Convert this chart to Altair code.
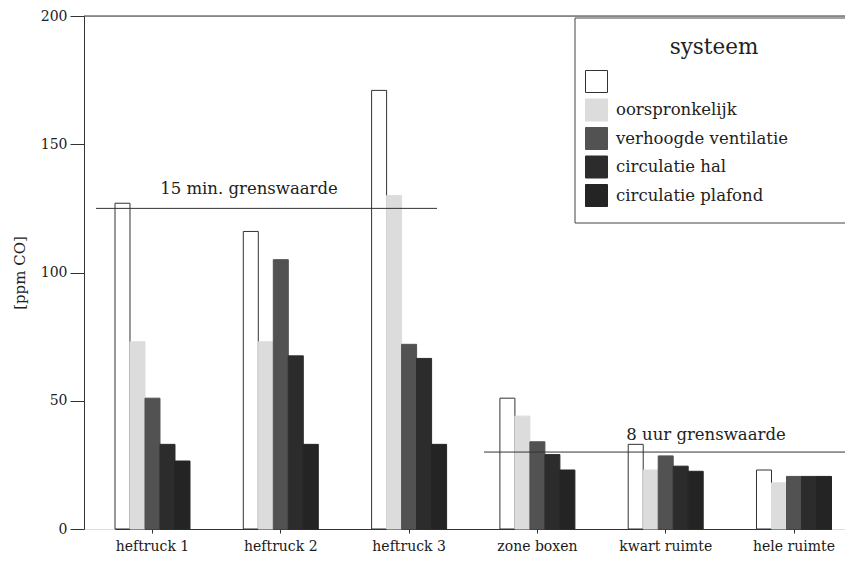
import altair as alt
import pandas as pd

categories = ["heftruck 1", "heftruck 2", "heftruck 3", "zone boxen", "kwart ruimte", "hele ruimte"]
series = ["referentie", "oorspronkelijk", "verhoogde ventilatie", "circulatie hal", "circulatie plafond"]
fills = ["#ffffff", "#dcdcdc", "#525252", "#2c2c2c", "#242424"]
strokes = ["#333333", "#dcdcdc", "#525252", "#2c2c2c", "#242424"]

referentie = [127, 116, 171, 51, 33, 23]
oorspronkelijk = [73, 73, 130, 44, 23, 18]
verhoogde_ventilatie = [51, 105, 72, 34, 28.5, 20.5]
circulatie_hal = [33, 67.5, 66.5, 29, 24.5, 20.5]
circulatie_plafond = [26.5, 33, 33, 23, 22.5, 20.5]

grens_15min = 125
grens_8uur = 30

FONT = "DejaVu Serif"
W, H = 761, 513

rows = []
for s, vals in zip(series, [referentie, oorspronkelijk, verhoogde_ventilatie, circulatie_hal, circulatie_plafond]):
    for c, v in zip(categories, vals):
        rows.append({"categorie": c, "systeem": s, "ppm": v})
df = pd.DataFrame(rows)

legend = alt.Legend(
    title=None, orient="none", legendX=501, legendY=54, padding=0,
    symbolType="square", symbolSize=484, symbolStrokeWidth=1,
    rowPadding=1.5, labelOffset=8, labelFont=FONT, labelFontSize=16.5,
    labelColor="#222", labelLimit=300,
    labelExpr="datum.label == 'referentie' ? '' : datum.label",
)

yscale = alt.Scale(domain=[0, 200], nice=False)

bars = alt.Chart(df).mark_bar(strokeWidth=1).encode(
    x=alt.X("categorie:N", sort=categories, title=None,
            scale=alt.Scale(paddingInner=0.4155, paddingOuter=0, range=[31, 747.5]),
            axis=alt.Axis(labelAngle=0, labelFont=FONT, labelFontSize=14, labelColor="#1a1a1a",
                          tickSize=4, labelPadding=6, domainColor="#333", tickColor="#333")),
    xOffset=alt.XOffset("systeem:N", sort=series, scale=alt.Scale(paddingInner=0, paddingOuter=0)),
    y=alt.Y("ppm:Q", scale=yscale, title="[ppm CO]",
            axis=alt.Axis(values=[0, 50, 100, 150, 200], grid=False, tickSize=14,
                          labelPadding=3, labelFont=FONT, labelFontSize=14, labelColor="#222",
                          titleFont=FONT, titleFontSize=15, titleFontWeight="normal",
                          titleColor="#222", titlePadding=13, domainColor="#333", tickColor="#333")),
    fill=alt.Fill("systeem:N", sort=series, scale=alt.Scale(domain=series, range=fills), legend=legend),
    stroke=alt.Stroke("systeem:N", sort=series, scale=alt.Scale(domain=series, range=strokes), legend=legend),
)

top_line = alt.Chart(pd.DataFrame({"a": [0]})).mark_rule(color="#333", strokeWidth=1).encode(
    x=alt.value(0), x2=alt.value(W), y=alt.value(0)
)

rule15 = alt.Chart(pd.DataFrame({"v": [grens_15min]})).mark_rule(color="#333", strokeWidth=1).encode(
    y=alt.Y("v:Q", scale=yscale), x=alt.value(12), x2=alt.value(353)
)
rule8 = alt.Chart(pd.DataFrame({"v": [grens_8uur]})).mark_rule(color="#333", strokeWidth=1).encode(
    y=alt.Y("v:Q", scale=yscale), x=alt.value(400), x2=alt.value(W)
)

txt15 = alt.Chart(pd.DataFrame({"t": ["15 min. grenswaarde"]})).mark_text(
    font=FONT, fontSize=16.5, color="#222", align="center", baseline="middle"
).encode(text="t:N", x=alt.value(165), y=alt.value(173))
txt8 = alt.Chart(pd.DataFrame({"t": ["8 uur grenswaarde"]})).mark_text(
    font=FONT, fontSize=16.5, color="#222", align="center", baseline="middle"
).encode(text="t:N", x=alt.value(622), y=alt.value(419))

legend_box = alt.Chart(pd.DataFrame({"a": [0]})).mark_rect(
    fill="white", stroke="#444", strokeWidth=1
).encode(x=alt.value(491), x2=alt.value(W + 20), y=alt.value(2), y2=alt.value(207))

legend_title = alt.Chart(pd.DataFrame({"t": ["systeem"]})).mark_text(
    font=FONT, fontSize=21.5, color="#222", align="center", baseline="middle"
).encode(text="t:N", x=alt.value(630), y=alt.value(32))

chart = alt.layer(
    bars, top_line, rule15, rule8, txt15, txt8, legend_box, legend_title
).properties(
    width=W, height=H,
    autosize=alt.AutoSizeParams(type="none"),
    padding={"left": 76, "top": 8, "right": 0, "bottom": 24},
).configure_view(strokeWidth=0).configure(background="white")

chart.save("out.html", embed_options={"renderer": "svg", "actions": False})
